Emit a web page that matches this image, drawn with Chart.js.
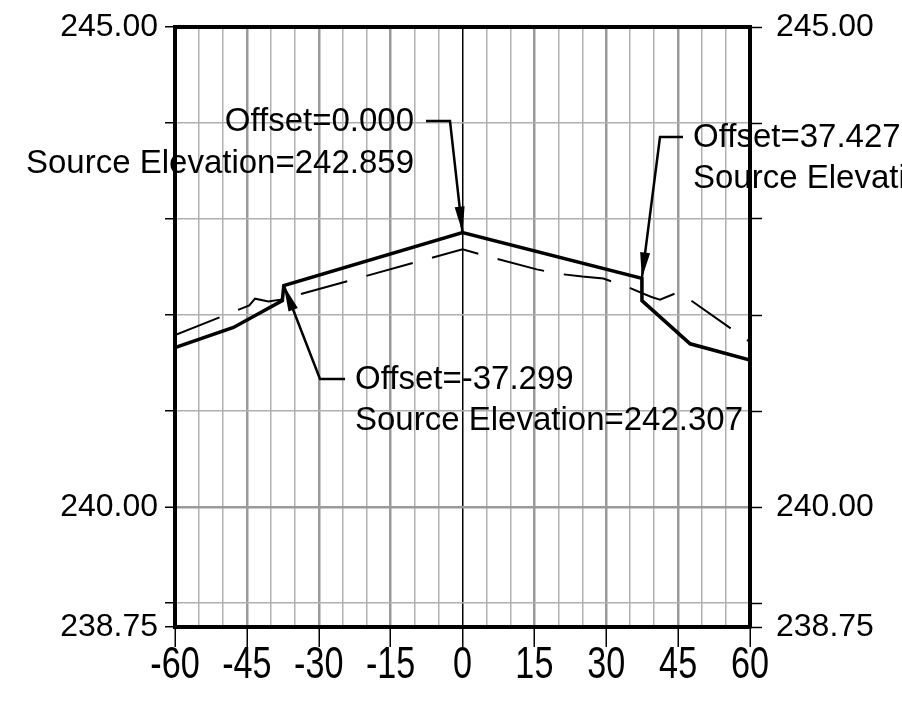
<!DOCTYPE html>
<html>
<head>
<meta charset="utf-8">
<script src="https://cdn.jsdelivr.net/npm/chart.js@4"></script>
<style>
  body { margin: 0; background: #fff; }
  #wrap { width: 902px; height: 702px; }
</style>
</head>
<body>
<div id="wrap"><canvas id="sectionChart" width="902" height="702"></canvas></div>
<script>
const designOffsets = [-60, -47.8, -37.6, -37.299, 0, 37.427, 37.45, 47.5, 60];
const designElevations = [241.66, 241.87, 242.15, 242.307, 242.859, 242.382, 242.15, 241.70, 241.53];

const groundOffsets = [-60, -44.5, -43.3, -40.5, -38, 0, 5.4, 15.5, 20, 25, 29.4, 35, 39.3, 41.2, 45.2, 48.3, 60];
const groundElevations = [241.79, 242.10, 242.17, 242.14, 242.16, 242.684, 242.61, 242.475, 242.43, 242.40, 242.38, 242.28, 242.19, 242.16, 242.24, 242.13, 241.72];

const yTickValues = [238.75, 239, 240, 241, 242, 243, 244, 245];
const yLabelled = [238.75, 240, 245];
const xLabelStep = 15;

// callouts: which offset/elevation pair they point at
const callouts = [
  { offset: 0, elev: 242.859 },
  { offset: -37.299, elev: 242.307 },
  { offset: 37.427, elev: 242.382 }
];

const FONT = '"Liberation Sans", Arial, sans-serif';

function toPoints(xs, ys) {
  return xs.map((x, i) => ({ x: x, y: ys[i] }));
}

function yTickCallback(value) {
  return yLabelled.some(v => Math.abs(v - value) < 1e-6) ? value.toFixed(2) : '';
}

// the x labels of the plot are tall and narrow, so they are painted squeezed
const narrowXLabels = {
  id: 'narrowXLabels',
  afterDraw(chart) {
    const ctx = chart.ctx;
    const xs = chart.scales.x;
    ctx.save();
    ctx.font = '45px ' + FONT;
    ctx.fillStyle = '#000';
    ctx.textAlign = 'center';
    ctx.textBaseline = 'alphabetic';
    xs.ticks.forEach(t => {
      if (t.value % xLabelStep !== 0) return;
      const px = xs.getPixelForValue(t.value);
      ctx.save();
      ctx.translate(px, 678);
      ctx.scale(0.76, 1);
      ctx.fillText(String(t.value), 0, 0);
      ctx.restore();
    });
    ctx.restore();
  }
};

const calloutPlugin = {
  id: 'callouts',
  afterDatasetsDraw(chart) {
    const ctx = chart.ctx;
    const xs = chart.scales.x;
    const ys = chart.scales.y;

    // layout for each callout: elbow of leader, text anchor, text lines
    const layouts = [
      { elbow: [450, 121], barEnd: 426, textX: 414, align: 'right', textY: [122, 164] },
      { elbow: [320, 379], barEnd: 345, textX: 355, align: 'left', textY: [380, 421] },
      { elbow: [660, 137], barEnd: 683, textX: 693, align: 'left', textY: [138, 179] }
    ];

    ctx.save();
    callouts.forEach((c, i) => {
      const L = layouts[i];
      const tx = xs.getPixelForValue(c.offset);
      const ty = ys.getPixelForValue(c.elev);

      ctx.strokeStyle = '#000';
      ctx.lineWidth = 2.5;
      ctx.beginPath();
      ctx.moveTo(L.barEnd, L.elbow[1]);
      ctx.lineTo(L.elbow[0], L.elbow[1]);
      ctx.lineTo(tx, ty);
      ctx.stroke();

      // arrow head
      const ang = Math.atan2(ty - L.elbow[1], tx - L.elbow[0]);
      const len = 26, half = 5;
      ctx.fillStyle = '#000';
      ctx.beginPath();
      ctx.moveTo(tx, ty);
      ctx.lineTo(tx - len * Math.cos(ang) + half * Math.sin(ang), ty - len * Math.sin(ang) - half * Math.cos(ang));
      ctx.lineTo(tx - len * Math.cos(ang) - half * Math.sin(ang), ty - len * Math.sin(ang) + half * Math.cos(ang));
      ctx.closePath();
      ctx.fill();

      ctx.font = '33px ' + FONT;
      ctx.textAlign = L.align;
      ctx.textBaseline = 'middle';
      ctx.fillText('Offset=' + c.offset.toFixed(3), L.textX, L.textY[0]);
      ctx.fillText('Source Elevation=' + c.elev.toFixed(3), L.textX, L.textY[1]);
    });
    ctx.restore();
  }
};

new Chart(document.getElementById('sectionChart'), {
  type: 'line',
  data: {
    datasets: [
      {
        label: 'Existing ground',
        data: toPoints(groundOffsets, groundElevations),
        borderColor: '#000',
        borderWidth: 2,
        borderDash: [48, 20],
        pointRadius: 0,
        tension: 0
      },
      {
        label: 'Design surface',
        data: toPoints(designOffsets, designElevations),
        borderColor: '#000',
        borderWidth: 3.5,
        pointRadius: 0,
        tension: 0
      }
    ]
  },
  options: {
    responsive: false,
    animation: false,
    layout: { padding: 0 },
    plugins: {
      legend: { display: false },
      tooltip: { enabled: false }
    },
    scales: {
      x: {
        type: 'linear',
        position: 'bottom',
        min: -60,
        max: 60,
        afterFit(scale) { scale.height = 75; },
        ticks: {
          stepSize: 5,
          autoSkip: false,
          maxRotation: 0,
          color: 'rgba(0,0,0,0)',
          font: { family: FONT, size: 20, lineHeight: 0.6 },
          callback: v => (v % xLabelStep === 0 ? String(v) : '')
        },
        grid: {
          color: ctx => (ctx.tick && ctx.tick.value === 0 ? '#000' : (ctx.tick && ctx.tick.value % 15 === 0 ? '#9a9a9a' : '#b0b0b0')),
          lineWidth: ctx => (ctx.tick && ctx.tick.value % 15 === 0 && ctx.tick.value !== 0 ? 2.5 : 1.5),
          tickColor: ctx => (ctx.tick && ctx.tick.value % 15 === 0 ? '#000' : 'rgba(0,0,0,0)'),
          tickWidth: 1.5,
          tickLength: 20
        },
        border: { color: '#000', width: 4 }
      },
      xTop: {
        type: 'linear',
        position: 'top',
        min: -60,
        max: 60,
        afterFit(scale) { scale.height = 27; },
        ticks: { display: false },
        grid: { display: false },
        border: { color: '#000', width: 4 }
      },
      y: {
        type: 'linear',
        position: 'left',
        min: 238.75,
        max: 245,
        afterBuildTicks(scale) { scale.ticks = yTickValues.map(v => ({ value: v })); },
        afterFit(scale) { scale.width = 175; },
        ticks: {
          autoSkip: false,
          padding: 7,
          color: '#000',
          font: { family: FONT, size: 32, lineHeight: 0.6 },
          callback: yTickCallback
        },
        grid: {
          color: ctx => (ctx.tick && ctx.tick.value === 240 ? '#9a9a9a' : '#b0b0b0'),
          lineWidth: ctx => (ctx.tick && ctx.tick.value === 240 ? 2.5 : 1.5),
          tickColor: '#000',
          tickWidth: 1.5,
          tickLength: 10
        },
        border: { color: '#000', width: 4 }
      },
      yRight: {
        type: 'linear',
        position: 'right',
        min: 238.75,
        max: 245,
        afterBuildTicks(scale) { scale.ticks = yTickValues.map(v => ({ value: v })); },
        afterFit(scale) { scale.width = 152; },
        ticks: {
          autoSkip: false,
          padding: 14,
          color: '#000',
          font: { family: FONT, size: 32, lineHeight: 0.6 },
          callback: yTickCallback
        },
        grid: {
          drawOnChartArea: false,
          tickColor: '#000',
          tickWidth: 1.5,
          tickLength: 12
        },
        border: { color: '#000', width: 4 }
      }
    }
  },
  plugins: [calloutPlugin, narrowXLabels]
});
</script>
</body>
</html>
